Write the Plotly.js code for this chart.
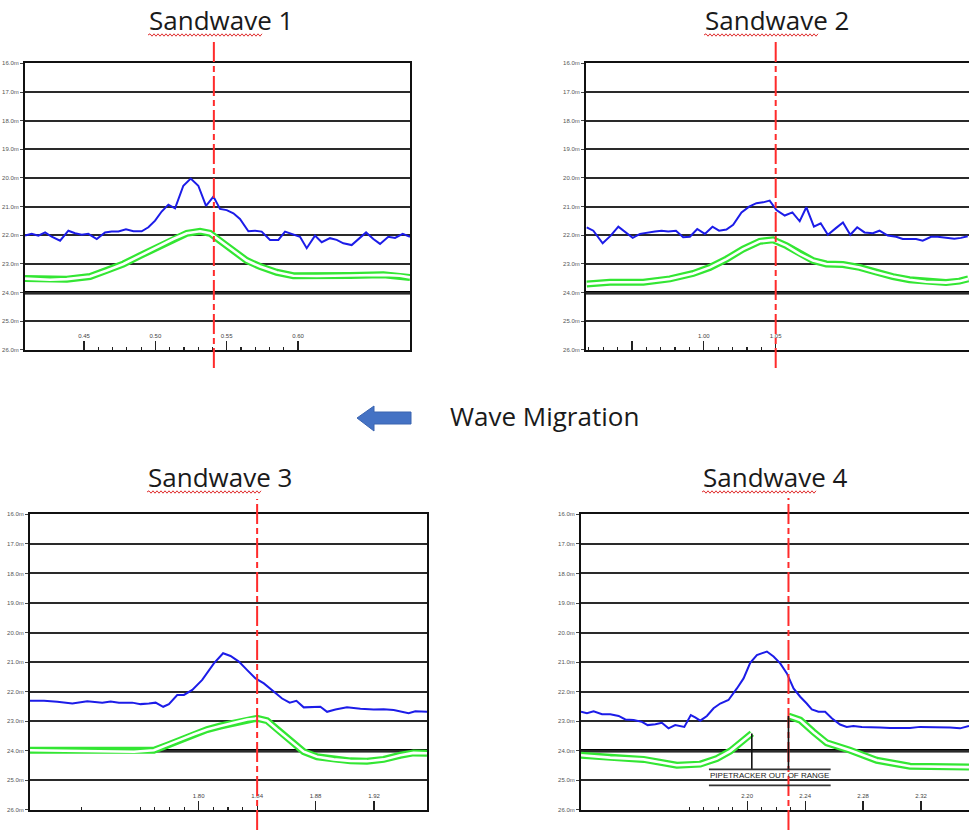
<!DOCTYPE html>
<html><head><meta charset="utf-8">
<script src="https://cdn.plot.ly/plotly-3.0.1.min.js"></script>
<style>html,body{margin:0;padding:0;background:#fff;} #chart{width:969px;height:830px;}</style>
</head><body><div id="chart"></div>
<script>
// ---------------- DATA ----------------
const titles = ['Sandwave 1', 'Sandwave 2', 'Sandwave 3', 'Sandwave 4'];
const middleLabel = 'Wave Migration';
const depthTicks = [16, 17, 18, 19, 20, 21, 22, 23, 24, 25, 26];
const referenceDepth = 24.0;
const centerlines = [0.541, 1.05, 1.84, 2.2285];

// Sandwave 1
const sw1X = [0.4086,0.4133,0.4180,0.4227,0.4273,0.4332,0.4390,0.4437,0.4484,0.4530,0.4589,0.4647,0.4694,0.4741,0.4794,0.4846,0.4904,0.4951,0.4998,0.5044,0.5091,0.5138,0.5196,0.5248,0.5301,0.5355,0.5407,0.5453,0.5500,0.5547,0.5593,0.5652,0.5699,0.5745,0.5804,0.5862,0.5909,0.5956,0.6014,0.6061,0.6119,0.6166,0.6224,0.6271,0.6318,0.6376,0.6423,0.6477,0.6528,0.6575,0.6633,0.6680,0.6734,0.6785];
const sw1Seabed = [22.01,21.95,22.01,21.90,22.05,22.19,21.84,21.93,21.98,21.95,22.13,21.90,21.87,21.87,21.79,21.86,21.86,21.72,21.49,21.17,20.93,21.06,20.27,20.02,20.27,20.97,20.65,21.08,21.12,21.23,21.43,21.86,21.84,21.87,22.16,22.16,21.87,21.95,22.05,22.45,22.01,22.24,22.10,22.16,22.28,22.34,22.13,21.90,22.13,22.30,22.05,22.09,21.95,22.05];
const sw1PipeX = [0.4086,0.4262,0.4379,0.4542,0.4659,0.4776,0.4893,0.5009,0.5126,0.5220,0.5313,0.5383,0.5453,0.5547,0.5640,0.5734,0.5850,0.5967,0.6131,0.6364,0.6598,0.6715,0.6785];
const sw1Pipe = [23.51,23.55,23.53,23.44,23.23,23.00,22.71,22.42,22.13,21.93,21.86,21.93,22.19,22.53,22.88,23.09,23.29,23.41,23.42,23.40,23.38,23.41,23.47];

// Sandwave 2
const sw2X = [0.9185,0.9231,0.9296,0.9352,0.9405,0.9458,0.9505,0.9556,0.9606,0.9660,0.9706,0.9752,0.9806,0.9856,0.9903,0.9954,1.0007,1.0060,1.0106,1.0157,1.0204,1.0262,1.0315,1.0366,1.0412,1.0458,1.0505,1.0563,1.0616,1.0667,1.0713,1.0766,1.0813,1.0863,1.0921,1.0968,1.1019,1.1067,1.1118,1.1176,1.1222,1.1280,1.1338,1.1384,1.1431,1.1477,1.1523,1.1581,1.1627,1.1685,1.1743,1.1789,1.1836];
const sw2Seabed = [21.72,21.84,22.28,22.01,21.70,21.90,22.09,21.95,21.90,21.87,21.84,21.87,21.84,22.07,22.05,21.78,21.95,21.70,21.84,21.80,21.63,21.20,21.00,20.88,20.85,20.79,21.12,21.31,21.20,21.51,21.02,21.70,21.58,21.98,21.74,21.55,21.98,21.72,21.90,21.93,21.84,22.01,22.05,22.13,22.13,22.13,22.19,22.05,22.05,22.09,22.12,22.09,22.03];
const sw2PipeX = [0.9185,0.9347,0.9579,0.9764,0.9926,1.0042,1.0157,1.0273,1.0389,1.0481,1.0574,1.0667,1.0759,1.0852,1.0968,1.1083,1.1199,1.1315,1.1431,1.1546,1.1685,1.1778,1.1840];
const sw2Pipe = [23.70,23.64,23.64,23.52,23.33,23.12,22.83,22.48,22.21,22.16,22.36,22.65,22.88,23.00,23.02,23.12,23.29,23.44,23.55,23.62,23.65,23.60,23.52];

// Sandwave 3
const sw3X = [1.6845,1.6941,1.7032,1.7135,1.7237,1.7340,1.7397,1.7454,1.7545,1.7602,1.7659,1.7705,1.7757,1.7796,1.7853,1.7899,1.7956,1.8024,1.8104,1.8167,1.8218,1.8275,1.8332,1.8389,1.8446,1.8514,1.8571,1.8623,1.8669,1.8719,1.8788,1.8833,1.8879,1.8936,1.9015,1.9107,1.9198,1.9266,1.9335,1.9392,1.9437,1.9483,1.9585];
const sw3Seabed = [22.31,22.31,22.34,22.40,22.32,22.37,22.33,22.37,22.37,22.42,22.40,22.37,22.51,22.42,22.11,22.11,21.94,21.60,21.04,20.70,20.79,20.98,21.27,21.55,21.72,22.00,22.23,22.37,22.31,22.53,22.51,22.51,22.68,22.60,22.53,22.58,22.60,22.59,22.62,22.68,22.73,22.66,22.68];
const sw3PipeX = [1.6845,1.7101,1.7329,1.7557,1.7693,1.7785,1.7876,1.7968,1.8058,1.8149,1.8240,1.8332,1.8400,1.8468,1.8537,1.8628,1.8719,1.8810,1.8924,1.9038,1.9152,1.9266,1.9380,1.9471,1.9563];
const sw3Pipe = [23.98,23.99,24.02,24.03,23.98,23.81,23.62,23.44,23.28,23.16,23.05,22.94,22.90,22.98,23.28,23.67,24.03,24.20,24.29,24.34,24.35,24.29,24.15,24.07,24.08];

// Sandwave 4
const sw4X = [2.0853,2.0894,2.0940,2.0998,2.1055,2.1113,2.1159,2.1216,2.1274,2.1313,2.1366,2.1411,2.1457,2.1503,2.1566,2.1611,2.1641,2.1676,2.1722,2.1768,2.1814,2.1871,2.1929,2.1975,2.2021,2.2067,2.2136,2.2182,2.2228,2.2274,2.2320,2.2366,2.2411,2.2446,2.2492,2.2538,2.2584,2.2641,2.2687,2.2733,2.2791,2.2848,2.2917,2.2986,2.3055,2.3124,2.3193,2.3262,2.3331,2.3400,2.3469,2.3531];
const sw4Seabed = [22.68,22.73,22.66,22.76,22.76,22.82,22.94,22.96,23.02,23.13,23.10,23.05,23.24,23.13,23.19,22.79,22.87,22.98,22.82,22.56,22.40,22.28,21.89,21.55,21.02,20.76,20.64,20.81,21.04,21.38,21.89,22.17,22.40,22.60,22.68,22.68,22.90,23.11,23.19,23.16,23.19,23.21,23.21,23.23,23.24,23.23,23.19,23.19,23.19,23.21,23.24,23.16];
const sw4PipeX = [2.0853,2.1055,2.1285,2.1515,2.1676,2.1791,2.1883,2.1963,2.2032,null,2.2285,2.2366,2.2457,2.2549,2.2710,2.2894,2.3124,2.3354,2.3531];
const sw4Pipe = [24.15,24.23,24.29,24.49,24.45,24.26,24.01,23.69,23.41,null,22.82,22.96,23.36,23.73,23.98,24.32,24.52,24.55,24.55];
const outOfRangeLabel = 'PIPETRACKER OUT OF RANGE';
const outOfRangeX = [2.1736, 2.2576];      // bracket span
const outOfRangeDepth = [24.63, 25.17];    // bracket lines

// Tick values
const sw1Major = [0.45, 0.50, 0.55, 0.60];
const sw1Labels = ['0.45', '0.50', '0.55', '0.60'];
const sw1Minor = [0.46,0.47,0.48,0.49,0.51,0.52,0.53,0.54,0.56,0.57,0.58,0.59];
const sw2Major = [0.95, 1.00, 1.05];
const sw2Labels = ['', '1.00', '1.05'];
const sw2Minor = [0.92,0.93,0.94,0.96,0.97,0.98,0.99,1.01,1.02,1.03,1.04];
const sw3Major = [1.80, 1.84, 1.88, 1.92];
const sw3Labels = ['1.80', '1.84', '1.88', '1.92'];
const sw3Minor = [1.72,1.76,1.77,1.78,1.79,1.81,1.82,1.83];
const sw4Major = [2.20, 2.24, 2.28, 2.32];
const sw4Labels = ['2.20', '2.24', '2.28', '2.32'];
const sw4Minor = [2.16,2.17,2.18,2.19,2.21,2.22,2.23];

// ---------------- LAYOUT HELPERS ----------------
const W = 969, H = 830;
const fx = p => p / W;
const fy = p => 1 - p / H;

const panels = [
  {x: sw1X, s: sw1Seabed, px: sw1PipeX, p: sw1Pipe, major: sw1Major, labels: sw1Labels, minor: sw1Minor,
   xd: [25, 410], yd: [63.3, 350], range: [0.4086, 0.6785], rightBorder: true, red: [40, 368], tx: 221, ty: 20},
  {x: sw2X, s: sw2Seabed, px: sw2PipeX, p: sw2Pipe, major: sw2Major, labels: sw2Labels, minor: sw2Minor,
   xd: [586, 969], yd: [63.3, 350], range: [0.918, 1.1845], rightBorder: false, red: [40, 368], tx: 777, ty: 20},
  {x: sw3X, s: sw3Seabed, px: sw3PipeX, p: sw3Pipe, major: sw3Major, labels: sw3Labels, minor: sw3Minor,
   xd: [30, 427], yd: [514.3, 810], range: [1.6845, 1.9563], rightBorder: true, red: [499, 830], tx: 220, ty: 477},
  {x: sw4X, s: sw4Seabed, px: sw4PipeX, p: sw4Pipe, major: sw4Major, labels: sw4Labels, minor: sw4Minor,
   xd: [581, 969], yd: [514.3, 810], range: [2.0853, 2.3531], rightBorder: false, red: [498, 830], tx: 775, ty: 477}
];

const traces = [];
const layout = {
  width: W, height: H, margin: {l: 0, r: 0, t: 0, b: 0},
  paper_bgcolor: '#fff', plot_bgcolor: '#fff', showlegend: false,
  font: {family: 'Liberation Sans, Arial, sans-serif'},
  shapes: [], annotations: []
};

panels.forEach((pn, i) => {
  const n = i === 0 ? '' : String(i + 1);
  const xa = 'x' + n, ya = 'y' + n;
  // pipe (double green line: wide green + white core)
  traces.push({x: pn.px, y: pn.p, xaxis: xa, yaxis: ya, type: 'scatter', mode: 'lines',
    line: {color: '#33e633', width: 7}, hoverinfo: 'skip', connectgaps: false});
  traces.push({x: pn.px, y: pn.p, xaxis: xa, yaxis: ya, type: 'scatter', mode: 'lines',
    line: {color: '#ffffff', width: 2.6}, hoverinfo: 'skip', connectgaps: false});
  // seabed
  traces.push({x: pn.x, y: pn.s, xaxis: xa, yaxis: ya, type: 'scatter', mode: 'lines',
    line: {color: '#1c1ce8', width: 2}, hoverinfo: 'skip'});

  layout['xaxis' + n] = {
    domain: [fx(pn.xd[0]), fx(pn.xd[1])], range: pn.range, anchor: ya,
    showgrid: false, zeroline: false, showline: true, linecolor: '#111', linewidth: 2, mirror: true,
    ticks: 'inside', ticklen: 9, tickwidth: 1.2, tickcolor: '#222',
    tickmode: 'array', tickvals: pn.major, ticktext: pn.labels,
    ticklabelposition: 'inside', ticklabeloverflow: 'allow',
    tickfont: {size: 6, color: '#444', family: 'Liberation Sans, Arial'},
    minor: {tickmode: 'array', tickvals: pn.minor, ticks: 'inside', ticklen: 3, tickwidth: 1.2, tickcolor: '#222', showgrid: false},
    fixedrange: true
  };
  layout['yaxis' + n] = {
    domain: [fy(pn.yd[1]), fy(pn.yd[0])], range: [depthTicks[depthTicks.length - 1] + 0.002, depthTicks[0] - 0.002], anchor: xa,
    tickmode: 'array', tickvals: depthTicks, ticktext: depthTicks.map(v => v.toFixed(1) + 'm'),
    ticklabeloverflow: 'allow',
    showgrid: true, gridcolor: '#2a2a2a', gridwidth: 2, zeroline: false,
    showline: true, linecolor: '#111', linewidth: 2, mirror: pn.rightBorder,
    ticks: 'outside', ticklen: 3, tickwidth: 1, tickcolor: '#444',
    tickfont: {size: 6, color: '#555', family: 'Liberation Sans, Arial'}, fixedrange: true
  };
  // thicker reference depth line
  layout.shapes.push({type: 'line', xref: xa + ' domain', yref: ya, x0: 0, x1: 1, y0: referenceDepth, y1: referenceDepth,
    line: {color: '#000', width: 3.5}, layer: 'below'});
  // red dashed centreline
  layout.shapes.push({type: 'line', xref: xa, yref: 'paper', x0: centerlines[i], x1: centerlines[i],
    y0: fy(pn.red[1]), y1: fy(pn.red[0]), line: {color: '#ff2b2b', width: 2, dash: '20px,4px,6px,4px'}, layer: 'above'});
  // title
  layout.annotations.push({text: titles[i], xref: 'paper', yref: 'paper', x: fx(pn.tx), y: fy(pn.ty),
    xanchor: 'center', yanchor: 'middle', showarrow: false,
    font: {family: 'Open Sans, Noto Sans, sans-serif', size: 26, color: '#1a1a1a'}});
  // spell-check squiggle under "Sandwave"
  const sx0 = pn.tx - 73, sx1 = pn.tx + 42, sy = pn.ty + 15;
  let d = 'M' + fx(sx0) + ',' + fy(sy);
  let up = true;
  for (let p = sx0 + 2; p <= sx1; p += 2) { d += ' L' + fx(p) + ',' + fy(sy + (up ? -1.2 : 1.2)); up = !up; }
  layout.shapes.push({type: 'path', xref: 'paper', yref: 'paper', path: d, line: {color: '#e03030', width: 1}});
});

// Pipetracker out of range bracket (panel 4)
layout.shapes.push({type: 'line', xref: 'x4', yref: 'y4', x0: sw4PipeX[8], x1: sw4PipeX[8], y0: sw4Pipe[8], y1: outOfRangeDepth[0], line: {color: '#111', width: 1.6}});
layout.shapes.push({type: 'line', xref: 'x4', yref: 'y4', x0: sw4PipeX[10], x1: sw4PipeX[10], y0: sw4Pipe[10], y1: outOfRangeDepth[0], line: {color: '#111', width: 1.6}});
outOfRangeDepth.forEach(dpt => layout.shapes.push({type: 'line', xref: 'x4', yref: 'y4', x0: outOfRangeX[0], x1: outOfRangeX[1], y0: dpt, y1: dpt, line: {color: '#333', width: 1.8}}));
layout.annotations.push({text: outOfRangeLabel, xref: 'x4', yref: 'y4', x: (outOfRangeX[0] + outOfRangeX[1]) / 2, y: 24.85,
  showarrow: false, xanchor: 'center', yanchor: 'middle', font: {size: 8, color: '#222', family: 'Liberation Sans, Arial'}});

// Wave migration label and arrow
layout.annotations.push({text: middleLabel, xref: 'paper', yref: 'paper', x: fx(448), y: fy(416), xanchor: 'left', yanchor: 'middle',
  showarrow: false, font: {family: 'Open Sans, Noto Sans, sans-serif', size: 26, color: '#1a1a1a'}});
const arrowPts = [[357,418],[374,406],[374,412],[411,412],[411,424],[374,424],[374,431]];
layout.shapes.push({type: 'path', xref: 'paper', yref: 'paper',
  path: 'M' + arrowPts.map(p => fx(p[0]) + ',' + fy(p[1])).join(' L') + ' Z',
  fillcolor: '#4472c4', line: {color: '#3a64b0', width: 1}});

Plotly.newPlot('chart', traces, layout, {staticPlot: true, displayModeBar: false});
</script></body></html>
